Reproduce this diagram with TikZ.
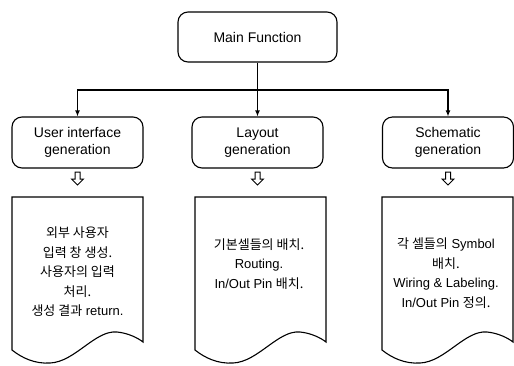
\documentclass[tikz,border=0pt]{standalone}
\usepackage{fontspec}
\usetikzlibrary{arrows.meta}
\setmainfont{Liberation Sans}
\newfontfamily\kr{Noto Sans CJK KR}
\newcommand{\ko}[1]{{\kr #1}}
\begin{document}
\begin{tikzpicture}[x=1pt,y=-1pt,
  line width=1.1pt,
  mainbox/.style={draw, rounded corners=10pt, minimum width=159pt, minimum height=50pt,
    font=\fontsize{14}{17}\selectfont, align=center, inner sep=0pt},
  genbox/.style={draw, rounded corners=10pt, minimum width=131pt, minimum height=51pt,
    font=\fontsize{14}{17}\selectfont, align=center, inner sep=0pt},
  doctext/.style={font=\fontsize{13}{19.5}\selectfont, align=center, inner sep=0pt},
  link/.style={line width=1.3pt, -{Latex[length=6pt,width=5pt]}},
  hollowdown/.pic={\draw[line width=1pt] (-2.5,0) -- (2.5,0) -- (2.5,7) -- (6,7) -- (0,13)
      -- (-6,7) -- (-2.5,7) -- cycle;}
]
\useasboundingbox (0,0) rectangle (514,365);

% top level
\node[mainbox] (main) at (257.5,37) {Main Function};

% second level
\node[genbox] (ui)  at (77.5,142.5) {User interface\\generation};
\node[genbox] (lay) at (257.5,142.5) {Layout\\generation};
\node[genbox] (sch) at (448,142.5) {Schematic\\generation};

% tree connectors
\coordinate (j) at (257.5,90);
\draw[line width=1.3pt] (main.south) -- (j);
\draw[link] (j) -| (ui.north);
\draw[link] (j) -- (lay.north);
\draw[link] (j) -| (sch.north);

% hollow arrows
\pic at (77.5,172) {hollowdown};
\pic at (257.5,172) {hollowdown};
\pic at (448,172) {hollowdown};

% document shapes with wavy bottom
\foreach \x in {12,195,382}{
  \draw (\x,197) -- (\x+131,197) -- (\x+131,342)
    .. controls (\x+126,338) and (\x+116,333) .. (\x+105,332)
    .. controls (\x+83,330) and (\x+63,362) .. (\x+38,363)
    .. controls (\x+23,364) and (\x+10,358) .. (\x,350) -- cycle;
}

\node[doctext] (d1) at (77.5,272) {\ko{외부 사용자}\\\ko{입력 창 생성.}\\\ko{사용자의 입력}\\\ko{처리.}\\\ko{생성 결과} return.};
\node[doctext] (d2) at (259,264) {\ko{기본셀들의 배치.}\\Routing.\\In/Out Pin \ko{배치.}};
\node[doctext] (d3) at (446,273) {\ko{각 셀들의} Symbol\\\ko{배치.}\\Wiring \& Labeling.\\In/Out Pin \ko{정의.}};
\end{tikzpicture}
\end{document}
